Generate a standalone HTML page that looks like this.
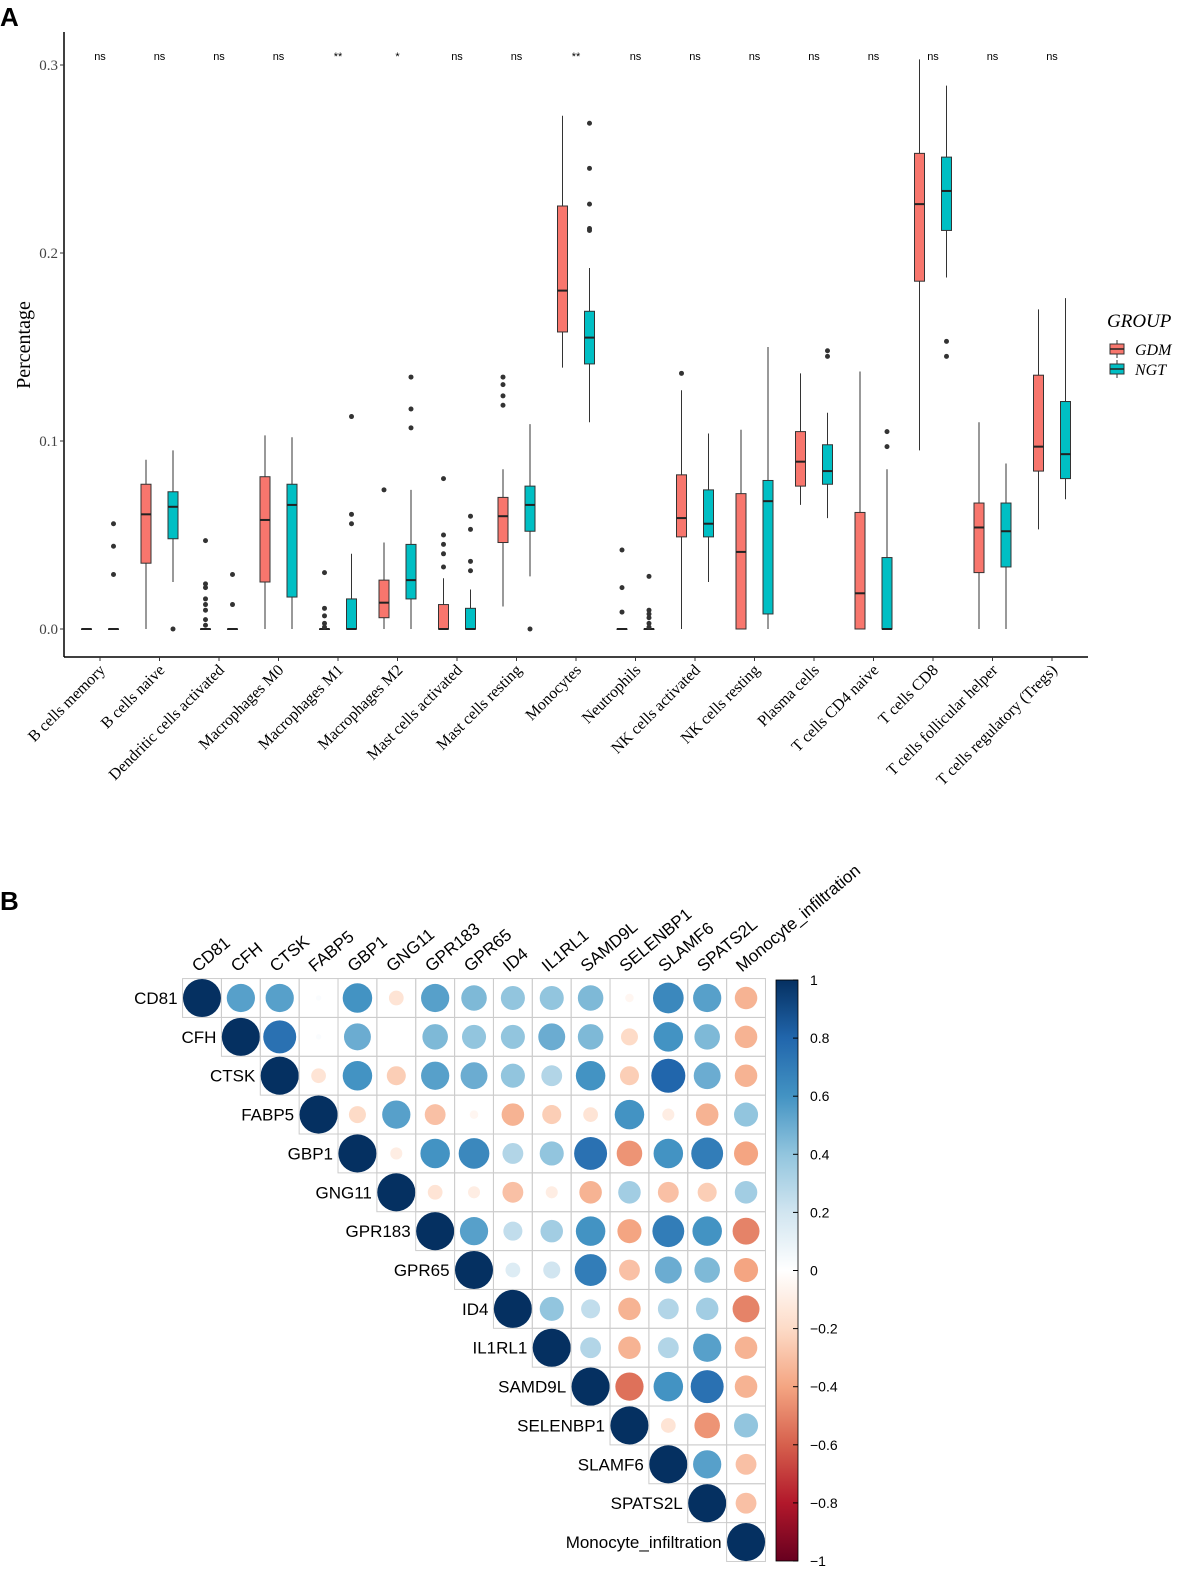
<!DOCTYPE html>
<html><head><meta charset="utf-8"><style>
body{margin:0;background:#fff}
svg{display:block}
</style></head><body>
<svg id="svg" width="1197" height="1594" xmlns="http://www.w3.org/2000/svg">
<text x="0" y="26" font-family="Liberation Sans, sans-serif" font-weight="bold" font-size="26">A</text>
<text x="0" y="910" font-family="Liberation Sans, sans-serif" font-weight="bold" font-size="26">B</text>
<g id="pa"></g>
<g id="pb"></g>
</svg>
<script>
const categories=["B cells memory","B cells naive","Dendritic cells activated","Macrophages M0","Macrophages M1","Macrophages M2","Mast cells activated","Mast cells resting","Monocytes","Neutrophils","NK cells activated","NK cells resting","Plasma cells","T cells CD4 naive","T cells CD8","T cells follicular helper","T cells regulatory (Tregs)"];
const signif=["ns","ns","ns","ns","**","*","ns","ns","**","ns","ns","ns","ns","ns","ns","ns","ns"];
// [lo, q1, med, q3, hi]
const gdmStats=[[0,0,0,0,0],[0,0.035,0.061,0.077,0.09],[0,0,0,0,0],[0,0.025,0.058,0.081,0.103],[0,0,0,0,0],[0,0.006,0.014,0.026,0.046],[0,0,0,0.013,0.027],[0.012,0.046,0.06,0.07,0.085],[0.139,0.158,0.18,0.225,0.273],[0,0,0,0,0],[0,0.049,0.059,0.082,0.127],[0,0,0.041,0.072,0.106],[0.066,0.076,0.089,0.105,0.136],[0,0,0.019,0.062,0.137],[0.095,0.185,0.226,0.253,0.303],[0,0.03,0.054,0.067,0.11],[0.053,0.084,0.097,0.135,0.17]];
const ngtStats=[[0,0,0,0,0],[0.025,0.048,0.065,0.073,0.095],[0,0,0,0,0],[0,0.017,0.066,0.077,0.102],[0,0,0,0.016,0.04],[0,0.016,0.026,0.045,0.074],[0,0,0,0.011,0.021],[0.028,0.052,0.066,0.076,0.109],[0.11,0.141,0.155,0.169,0.192],[0,0,0,0,0],[0.025,0.049,0.056,0.074,0.104],[0,0.008,0.068,0.079,0.15],[0.059,0.077,0.084,0.098,0.115],[0,0,0,0.038,0.085],[0.187,0.212,0.233,0.251,0.289],[0,0.033,0.052,0.067,0.088],[0.069,0.08,0.093,0.121,0.176]];
const gdmOut=[[],[],[0.047,0.024,0.022,0.016,0.013,0.01,0.005,0.002],[],[0.03,0.011,0.007,0.003,0.001],[0.074],[0.08,0.05,0.045,0.04,0.033],[0.119,0.124,0.13,0.134],[],[0.042,0.022,0.009],[0.136],[],[],[],[],[],[]];
const ngtOut=[[0.056,0.044,0.029],[0],[0.029,0.013],[],[0.113,0.061,0.056],[0.107,0.117,0.134],[0.06,0.053,0.036,0.031],[0],[0.212,0.213,0.226,0.245,0.269],[0.028,0.01,0.008,0.006,0.003,0.001],[],[],[0.145,0.148],[0.097,0.105],[0.153,0.145],[],[]];
const yTicks=[0,0.1,0.2,0.3];
const yTickLabels=["0.0","0.1","0.2","0.3"];

const genes=["CD81","CFH","CTSK","FABP5","GBP1","GNG11","GPR183","GPR65","ID4","IL1RL1","SAMD9L","SELENBP1","SLAMF6","SPATS2L","Monocyte_infiltration"];
const corrUpper=[
[0.55,0.55,0.02,0.6,-0.15,0.55,0.45,0.4,0.4,0.45,-0.05,0.65,0.55,-0.35],
[0.75,0.02,0.5,0.0,0.45,0.4,0.4,0.5,0.45,-0.2,0.6,0.45,-0.35],
[-0.15,0.6,-0.25,0.55,0.5,0.4,0.3,0.6,-0.25,0.8,0.5,-0.35],
[-0.2,0.55,-0.3,-0.05,-0.35,-0.25,-0.15,0.6,-0.1,-0.35,0.4],
[-0.1,0.6,0.65,0.3,0.4,0.75,-0.45,0.6,0.7,-0.4],
[-0.15,-0.1,-0.3,-0.1,-0.35,0.35,-0.3,-0.25,0.35],
[0.55,0.25,0.35,0.6,-0.4,0.7,0.6,-0.5],
[0.15,0.2,0.7,-0.3,0.5,0.45,-0.4],
[0.4,0.25,-0.35,0.3,0.35,-0.5],
[0.3,-0.35,0.3,0.55,-0.35],
[-0.55,0.6,0.75,-0.35],
[-0.15,-0.45,0.4],
[0.55,-0.3],
[-0.3]];
const cbTicks=[1,0.8,0.6,0.4,0.2,0,-0.2,-0.4,-0.6,-0.8,-1];
const cbTickLabels=["1","0.8","0.6","0.4","0.2","0","\u22120.2","\u22120.4","\u22120.6","\u22120.8","\u22121"];

const NS="http://www.w3.org/2000/svg";
function mk(parent,tag,attrs,text){const e=document.createElementNS(NS,tag);for(const k in attrs)e.setAttribute(k,attrs[k]);if(text!==undefined)e.textContent=text;parent.appendChild(e);return e;}
const SERIF="Liberation Serif, serif", SANS="Liberation Sans, sans-serif";

// ---- Panel A
const pa=document.getElementById('pa');
const X0=64,X1=1088,Ybot=657,Ytop=32;
const yS=v=>629-v*1880;
const xC=i=>100+i*59.5;
let e;
e=mk(pa,'line',{x1:X0,y1:Ytop,x2:X0,y2:Ybot,stroke:'#000','stroke-width':1.5});


e=mk(pa,'line',{x1:X0,y1:Ybot,x2:X1,y2:Ybot,stroke:'#000','stroke-width':1.5});


yTicks.forEach((t,i)=>{
  mk(pa,'line',{x1:X0-4,y1:yS(t),x2:X0,y2:yS(t),stroke:'#333'});
  e=mk(pa,'text',{x:X0-6,y:yS(t)+5,'text-anchor':'end','font-family':SERIF,'font-size':15,fill:'#444'},yTickLabels[i]);
  
  
});
e=mk(pa,'text',{x:0,y:0,transform:'translate(30,345) rotate(-90)','text-anchor':'middle','font-family':SERIF,'font-size':20},'Percentage');


function drawBox(cx,s,outs,fill,nm){
  const w=10;
  const g=mk(pa,'g',{});
  
  
  mk(g,'line',{x1:cx,y1:yS(s[0]),x2:cx,y2:yS(s[4]),stroke:'#333','stroke-width':1});
  mk(g,'rect',{x:cx-w/2,y:yS(s[3]),width:w,height:Math.max(0.5,yS(s[1])-yS(s[3])),fill:fill,stroke:'#333','stroke-width':1});
  mk(g,'line',{x1:cx-w/2,y1:yS(s[2]),x2:cx+w/2,y2:yS(s[2]),stroke:'#222','stroke-width':2});
  outs.forEach(o=>mk(g,'circle',{cx:cx,cy:yS(o),r:2.5,fill:'#333'}));
}
categories.forEach((c,i)=>{
  const cx=xC(i);
  drawBox(cx-13.5,gdmStats[i],gdmOut[i],'#F8766D','box-gdm');
  drawBox(cx+13.5,ngtStats[i],ngtOut[i],'#00BFC4','box-ngt');
  mk(pa,'line',{x1:cx,y1:Ybot,x2:cx,y2:Ybot+4,stroke:'#333'});
  e=mk(pa,'text',{x:0,y:0,transform:`translate(${cx+6},${Ybot+14}) rotate(-45)`,'text-anchor':'end','font-family':SERIF,'font-size':16},c);
  
  
  e=mk(pa,'text',{x:cx,y:60,'text-anchor':'middle','font-family':SANS,'font-size':11},signif[i]);
  
  
});
// legend
e=mk(pa,'text',{x:1107,y:327,'font-family':SERIF,'font-style':'italic','font-size':19},'GROUP');


[['GDM','#F8766D',349],['NGT','#00BFC4',369]].forEach(([n,c,y])=>{
  const g=mk(pa,'g',{});
  
  
  mk(g,'line',{x1:1117,y1:y-9,x2:1117,y2:y+9,stroke:'#333'});
  mk(g,'rect',{x:1110,y:y-5,width:14,height:10,fill:c,stroke:'#333'});
  mk(g,'line',{x1:1110,y1:y,x2:1124,y2:y,stroke:'#222','stroke-width':1.5});
  mk(g,'text',{x:1135,y:y+6,'font-family':SERIF,'font-style':'italic','font-size':16},n);
});

// ---- Panel B
const pb=document.getElementById('pb');
const cs=38.86, cx0=202, cy0=998;
const stops=["#67001F","#B2182B","#D6604D","#F4A582","#FDDBC7","#FFFFFF","#D1E5F0","#92C5DE","#4393C3","#2166AC","#053061"];
function hex(h){return [1,3,5].map(i=>parseInt(h.substr(i,2),16));}
function col(r){const t=(r+1)/2*10;const i=Math.min(9,Math.floor(t));const f=t-i;const a=hex(stops[i]),b=hex(stops[i+1]);return `rgb(${a.map((v,k)=>Math.round(v+(b[k]-v)*f)).join(',')})`;}
const n=genes.length;
for(let i=0;i<n;i++){
  for(let j=i;j<n;j++){
    const r=i===j?1:corrUpper[i][j-i-1];
    const x=cx0+j*cs,y=cy0+i*cs;
    mk(pb,'rect',{x:x-cs/2,y:y-cs/2,width:cs,height:cs,fill:'none',stroke:'#ccc','stroke-width':1});
    e=mk(pb,'circle',{cx:x,cy:y,r:Math.sqrt(Math.abs(r))*cs*0.49,fill:col(r)});
    
    
  }
  e=mk(pb,'text',{x:cx0+i*cs-cs/2-5,y:cy0+i*cs+6,'text-anchor':'end','font-family':SANS,'font-size':17},genes[i]);
  
  
  e=mk(pb,'text',{x:0,y:0,transform:`translate(${cx0+i*cs-4},${cy0-cs/2-6}) rotate(-40)`,'font-family':SANS,'font-size':17},genes[i]);
  
  
}
// colorbar
const cbX=776,cbW=22,cbT=980,cbB=1561;
const defs=mk(pb,'defs',{});
const lg=mk(defs,'linearGradient',{id:'cbg',x1:0,y1:1,x2:0,y2:0});
stops.forEach((s,i)=>mk(lg,'stop',{offset:(i*10)+'%','stop-color':s}));
e=mk(pb,'rect',{x:cbX,y:cbT,width:cbW,height:cbB-cbT,fill:'url(#cbg)',stroke:'#000','stroke-width':0.8});


const cbY=v=>cbT+(1-v)/2*(cbB-cbT);
cbTicks.forEach((t,i)=>{
  mk(pb,'line',{x1:cbX+cbW-5,y1:cbY(t),x2:cbX+cbW,y2:cbY(t),stroke:'#000'});
  e=mk(pb,'text',{x:cbX+cbW+12,y:cbY(t)+5,'font-family':SANS,'font-size':14},cbTickLabels[i]);
  
  
});
</script>
</body></html>
